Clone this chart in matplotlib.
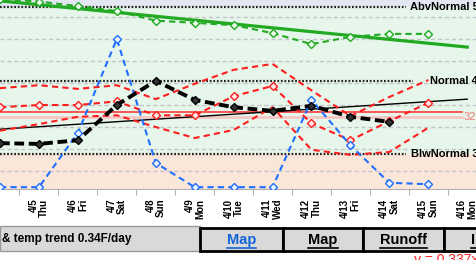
import matplotlib
matplotlib.use("Agg")
import matplotlib.pyplot as plt
from matplotlib.lines import Line2D
from matplotlib.patches import Rectangle

plt.rcParams["font.family"] = ["Liberation Sans", "DejaVu Sans"]

# ── data (deg F) ─────────────────────────────────────────────────────────────
days = [4, 5, 6, 7, 8, 9, 10, 11, 12, 13, 14, 15, 16]
day_labels = ["", "4/5\nThu", "4/6\nFri", "4/7\nSat", "4/8\nSun",
              "4/9\nMon", "4/10\nTue", "4/11\nWed", "4/12\nThu", "4/13\nFri",
              "4/14\nSat", "4/15\nSun", "4/16\nMon"]

temp_days = [4, 5, 6, 7, 8, 9, 10, 11, 12, 13, 14]
temp_obs = [36.8, 36.7, 37.2, 42.0, 45.3, 42.7, 41.7, 41.2, 41.9, 40.4, 39.7]

fc_days = [4, 5, 6, 7, 8, 9, 10, 11, 12, 13, 14, 15]
green_fc = [56.5, 56.1, 55.5, 54.8, 53.5, 53.2, 52.9, 51.8, 50.3, 51.3, 51.7, 51.7]
blue_fc = [30.8, 30.8, 38.2, 51.0, 34.1, 30.8, 30.8, 30.8, 42.7, 36.5, 31.4, 31.2]
red_a = [41.7, 42.0, 42.0, 42.5, 40.6, 40.6, 43.2, 44.6, 39.5, 37.2, 39.8, 42.3]
red_upper = [44.3, 44.7, 44.2, 44.7, 42.8, 44.9, 46.8, 47.6, 44.0, 40.5, 43.1, 45.4]
red_lower = [38.5, 39.4, 40.4, 40.6, 39.0, 37.5, 38.6, 41.7, 35.9, 35.2, 35.6, 38.9]

trend_days = [4, 16]
green_trend = [56.2, 49.9]
temp_trend = [38.7, 42.8]

abv_normal = 55.36
normal = 45.27
blw_normal = 35.32
red_ref = 41.0
pink_ref = 40.4
grid_vals = [54, 51, 48, 45, 42, 39, 36, 33]

trend_text = "& temp trend 0.34F/day"
buttons = ["Map", "Map", "Runoff", "Info"]
eq_text = "y = 0.337x + 38.7"

W, H = 476, 260


def px(x, y):
    return x / W, 1 - y / H


fig = plt.figure(figsize=(W / 100, H / 100), dpi=100)
ax = fig.add_axes([0, 1 - 189 / H, 1, 189 / H])
ax.set_xlim(4.325, 16.225)
ax.set_ylim(30.55, 56.32)

ax.axhspan(abv_normal, 60, color="#e1e6f0", zorder=0)
ax.axhspan(blw_normal, abv_normal, color="#e6f6ea", zorder=0)
ax.axhspan(20, blw_normal, color="#fbe6da", zorder=0)
for g in grid_vals:
    ax.axhline(g, color="#c4c4cc", lw=1, dashes=(3, 2), zorder=1)

for val, xstop, xlab, name in [(abv_normal, 406, 408, "AbvNormal"),
                               (normal, 413, 429, "Normal"),
                               (blw_normal, 406, 409, "BlwNormal")]:
    ax.axhline(val, xmax=xstop / W, color="#222222", lw=1.6, ls=(0, (0.8, 0.8)), zorder=2)
    ax.text(4.325 + xlab / 40, val, f"{name} {val:.1f}", fontsize=8, fontweight="bold",
            va="center", ha="left", zorder=6)

ax.axhline(pink_ref, xmax=462 / W, color="#f5c6c6", lw=2, zorder=2)
ax.axhline(red_ref, xmax=462 / W, color="#ff2a2a", lw=1.1, zorder=2)
ax.text(4.325 + 463 / 40, pink_ref, "32", color="#f07878", fontsize=8, va="center", zorder=6)

ax.plot(trend_days, temp_trend, color="black", lw=1, zorder=3)
ax.plot(trend_days, green_trend, color="#22aa22", lw=2.3, zorder=3)

red_kw = dict(color="#ff1e1e", lw=1.5, dashes=(3, 2), zorder=4)
ax.plot(fc_days, red_upper, **red_kw)
ax.plot(fc_days, red_lower, **red_kw)
ax.plot(fc_days, red_a, marker="D", ms=4.5, mfc="#ffe8e8", mec="#ff1e1e", mew=1, **red_kw)
ax.plot(fc_days, green_fc, color="#22aa22", lw=1.5, dashes=(3, 2), marker="D", ms=4.5,
        mfc="#eefaee", mec="#22aa22", mew=1, zorder=4)
ax.plot(fc_days, blue_fc, color="#1e6fff", lw=1.5, dashes=(3, 2), marker="D", ms=4.5,
        mfc="#eef4ff", mec="#1e6fff", mew=1, zorder=4)
ax.plot(temp_days, temp_obs, color="black", lw=2.8, dashes=(2.5, 1.2), marker="D", ms=4,
        mfc="#333333", mec="black", zorder=5)

for s in ["top", "left", "right"]:
    ax.spines[s].set_visible(False)
ax.spines["bottom"].set_color("#b0b0b0")
ax.set_yticks([])
ax.set_xticks(days)
ax.set_xticklabels(day_labels, rotation=90, fontsize=7, fontweight="bold",
                   va="top", ha="center", multialignment="right", linespacing=1.05)
ax.tick_params(axis="x", which="major", length=0, pad=7)
ax.set_xticks([d + 0.5 for d in days[:-1]], minor=True)
ax.tick_params(axis="x", which="minor", length=4, color="#a0a0a0")

# bottom bar
x0, y0 = px(0, 251)
fig.patches.append(Rectangle((x0, y0), 200 / W, 25 / H, transform=fig.transFigure,
                             facecolor="#d9d9d9", edgecolor="#9a9a9a", lw=1))
fig.text(2 / W, 1 - 239 / H, trend_text, fontsize=8.5, fontweight="bold", va="center")

edges = [200, 283, 363, 444, 525]
colors = ["#1565d8", "black", "black", "black"]
fig.canvas.draw()
r = fig.canvas.get_renderer()
for i, lab in enumerate(buttons):
    bx, by = px(edges[i], 251)
    fig.patches.append(Rectangle((bx, by), (edges[i + 1] - edges[i]) / W, 23 / H,
                                 transform=fig.transFigure, facecolor="#d9d9d9",
                                 edgecolor="black", lw=2))
    cx = (edges[i] + edges[i + 1]) / 2
    t = fig.text(cx / W, 1 - 240 / H, lab, fontsize=10.5, fontweight="bold",
                 color=colors[i], ha="center", va="center")
    bb = t.get_window_extent(r)
    fig.lines.append(Line2D([bb.x0 / W, bb.x1 / W], [1 - 248 / H] * 2,
                            transform=fig.transFigure, color=colors[i], lw=1.2))

fig.text(414 / W, 1 - 253 / H, eq_text, fontsize=10, color="#ff2020", va="top")

fig.savefig("out.png", dpi=100)
